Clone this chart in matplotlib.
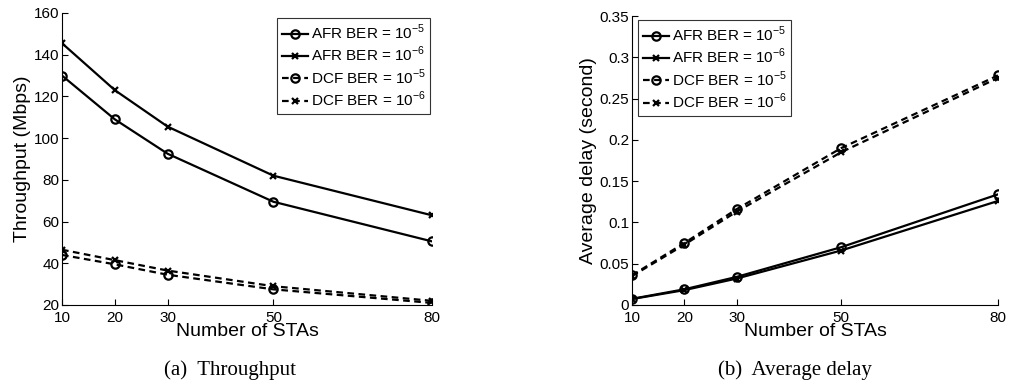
import matplotlib
matplotlib.use("Agg")
import matplotlib.pyplot as plt
from matplotlib.ticker import FuncFormatter

plt.rcParams["font.family"] = ["Liberation Sans", "DejaVu Sans"]
plt.rcParams["mathtext.fontset"] = "custom"
plt.rcParams["mathtext.rm"] = "Liberation Sans"

stas = [10, 20, 30, 50, 80]

# throughput (Mbps)
thr_afr5 = [130, 109, 92.5, 69.5, 50.5]
thr_afr6 = [145.5, 123, 105.5, 82, 63]
thr_dcf5 = [44, 39.5, 34.5, 27.5, 21]
thr_dcf6 = [46.5, 41.5, 36.5, 29, 22]

# average delay (second)
dly_afr5 = [0.0075, 0.019, 0.034, 0.070, 0.134]
dly_afr6 = [0.0072, 0.018, 0.032, 0.066, 0.126]
dly_dcf5 = [0.036, 0.075, 0.116, 0.190, 0.278]
dly_dcf6 = [0.035, 0.073, 0.113, 0.185, 0.275]

labels = [r"AFR BER = 10$^{-5}$", r"AFR BER = 10$^{-6}$",
          r"DCF BER = 10$^{-5}$", r"DCF BER = 10$^{-6}$"]
styles = [("-", "o"), ("-", "x"), ("--", "o"), ("--", "x")]

fig = plt.figure(figsize=(10.12, 3.83), dpi=100)
W, H = 1012, 383


def make_ax(px_left, px_right, px_top, px_bot):
    return fig.add_axes([px_left / W, 1 - px_bot / H,
                         (px_right - px_left) / W, (px_bot - px_top) / H])


def draw(ax, series, ylim, yticks, ylabel, legend_bbox):
    for (ls, mk), ys, lab in zip(styles, series, labels):
        ax.plot(stas, ys, ls=ls, marker=mk, color="black", lw=1.6,
                ms=6 if mk == "o" else 5, mew=1.6, mfc="none",
                dashes=(3, 2) if ls == "--" else (None, None), label=lab)
    ax.set_xlim(10, 80)
    ax.set_ylim(*ylim)
    ax.set_xticks(stas)
    ax.set_yticks(yticks)
    ax.yaxis.set_major_formatter(FuncFormatter(lambda v, p: f"{v:g}"))
    for s in ("top", "right"):
        ax.spines[s].set_visible(False)
    ax.spines["left"].set_linewidth(0.8)
    ax.spines["bottom"].set_linewidth(0.8)
    ax.tick_params(direction="in", length=4, width=0.8, labelsize=11, pad=2)
    ax.tick_params(axis="x", pad=4)
    ax.set_xlabel("Number of STAs", fontsize=14, labelpad=-1)
    ax.set_ylabel(ylabel, fontsize=14, labelpad=2)
    leg = ax.legend(loc="upper left", bbox_to_anchor=legend_bbox, fontsize=11,
                    frameon=True, fancybox=False, edgecolor="black",
                    handlelength=1.7, handletextpad=0.2, borderpad=0.3,
                    labelspacing=0.2, borderaxespad=0)
    leg.get_frame().set_linewidth(0.8)
    return ax


ax1 = make_ax(62, 432, 13, 305)
draw(ax1, [thr_afr5, thr_afr6, thr_dcf5, thr_dcf6], (20, 160),
     range(20, 161, 20), "Throughput (Mbps)",
     ((277 - 62) / 370, 1 - (18 - 13) / 292))

ax2 = make_ax(632, 998, 16, 305)
draw(ax2, [dly_afr5, dly_afr6, dly_dcf5, dly_dcf6], (0, 0.35),
     [0, 0.05, 0.1, 0.15, 0.2, 0.25, 0.3, 0.35], "Average delay (second)",
     ((638 - 632) / 366, 1 - (20 - 16) / 289))

fig.text(230 / W, 1 - 370 / H, "(a)  Throughput", ha="center", va="center",
         fontsize=15, family="Liberation Serif")
fig.text(795 / W, 1 - 370 / H, "(b)  Average delay", ha="center", va="center",
         fontsize=15, family="Liberation Serif")

fig.savefig("out.png", dpi=100)
